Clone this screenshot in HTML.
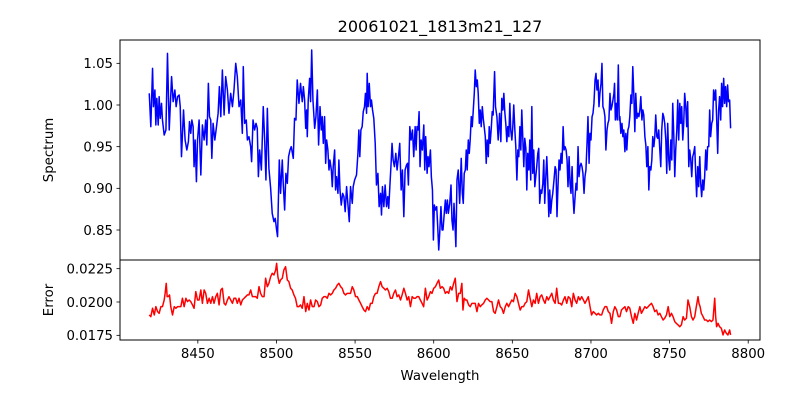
<!DOCTYPE html>
<html><head><meta charset="utf-8"><style>
html,body{margin:0;padding:0;background:#fff;}
svg{display:block;font-family:"DejaVu Sans","Liberation Sans",sans-serif;}
</style></head><body>
<svg id="fig" width="800" height="400" viewBox="0 0 800 400">
<rect x="0" y="0" width="800" height="400" fill="#fff"/>
<text x="440" y="32" font-size="16" text-anchor="middle">20061021_1813m21_127</text>
<text transform="translate(53,150) rotate(-90)" font-size="13.3" text-anchor="middle">Spectrum</text>
<text transform="translate(53,300) rotate(-90)" font-size="13.3" text-anchor="middle">Error</text>
<text x="440" y="380" font-size="13.3" text-anchor="middle">Wavelength</text>
<g id="g"></g>
</svg>
<script>
const fluxWave=[8419.1,8420.1,8421.2,8421.8,8422.7,8423.3,8423.9,8424.8,8425.4,8426.1,8426.9,8427.5,8428.6,8429.7,8430.7,8431.8,8433.3,8434.3,8435.4,8436.2,8437.1,8438.1,8438.8,8439.6,8440.9,8441.9,8443.0,8444.0,8444.7,8445.5,8446.2,8447.0,8447.6,8448.3,8449.1,8449.8,8450.8,8451.9,8452.9,8454.0,8455.0,8455.7,8456.7,8457.4,8458.2,8458.9,8459.7,8460.8,8461.6,8462.9,8463.7,8464.6,8465.6,8466.7,8467.7,8468.8,8469.8,8470.9,8472.0,8473.0,8474.1,8475.1,8476.2,8477.3,8478.3,8478.9,8479.8,8480.8,8481.5,8482.5,8483.6,8484.2,8485.1,8486.1,8487.0,8487.8,8488.5,8489.3,8490.4,8491.6,8492.5,8493.3,8494.2,8495.2,8496.3,8497.3,8498.4,8499.2,8500.1,8500.7,8501.8,8502.6,8503.7,8504.3,8505.2,8506.0,8506.9,8507.7,8508.6,8509.4,8510.7,8511.5,8512.4,8513.2,8514.3,8515.3,
8516.4,8517.1,8517.9,8518.6,8519.2,8519.6,8520.2,8521.1,8521.7,8522.4,8523.2,8524.3,8525.1,8526.0,8526.8,8527.7,8528.5,8529.1,8529.8,8530.6,8531.3,8531.9,8532.7,8533.4,8534.0,8534.9,8535.5,8536.1,8537.0,8537.6,8538.2,8539.1,8539.7,8540.4,8541.2,8542.1,8542.9,8543.7,8544.6,8545.4,8546.3,8547.1,8548.2,8548.8,8549.7,8550.9,8551.8,8552.4,8553.0,8553.7,8554.5,8555.2,8556.0,8556.6,8557.3,8557.7,8558.3,8559.0,8559.8,8560.4,8561.1,8561.9,8562.8,8563.6,8564.5,8565.3,8566.2,8566.8,8567.4,8568.3,8569.1,8570.0,8570.8,8571.4,8572.1,8572.9,8573.5,8574.2,8575.0,8575.9,8576.7,8577.6,8578.4,8579.3,8580.1,8581.0,8581.8,8582.7,8583.3,8583.9,8584.8,8585.6,8586.5,8587.3,8588.2,8588.8,8589.4,8590.1,8590.7,8591.3,8592.0,8592.8,8593.7,8594.3,8594.9,8595.8,8596.4,8597.0,8597.9,8598.5,8599.2,8599.8,8600.4,8601.1,8601.9,8602.5,8603.2,8603.8,8604.6,8605.3,8605.9,8606.8,8607.4,8608.0,8608.7,8609.3,8610.2,8611.0,8611.6,8612.3,8612.9,8613.5,8614.1,8614.8,8615.6,8616.5,
8616.9,8617.5,8618.2,8618.8,8619.4,8620.1,8620.7,8621.3,8622.0,8622.6,8623.2,8623.9,8624.5,8625.1,8625.8,8626.4,8627.1,8627.7,8628.3,8629.0,8629.6,8630.2,8630.9,8631.5,8632.1,8632.8,8633.4,8634.0,8634.7,8635.3,8635.9,8636.6,8637.2,8637.8,8638.7,8639.3,8640.2,8641.0,8641.9,8642.7,8643.3,8644.0,8644.6,8645.2,8645.9,8646.5,8647.1,8647.8,8648.4,8649.0,8649.7,8650.3,8650.9,8651.6,8652.2,8652.9,8653.5,8654.1,8654.8,8655.4,8656.0,8656.7,8657.3,8657.9,8658.6,8659.2,8659.8,8660.5,8661.1,8661.7,8662.4,8663.0,8663.6,8664.3,8664.9,8665.5,8666.2,8666.8,8667.4,8668.1,8668.7,8669.4,8670.0,8670.6,8671.3,8671.9,8672.5,8673.2,8673.8,8674.4,8675.1,8675.7,8676.5,8677.2,8677.8,8678.4,8679.1,8679.7,8680.3,8681.0,8681.6,8682.3,8682.9,8683.5,8684.2,8684.8,8685.4,8686.1,8686.7,8687.3,8688.0,8688.6,8689.2,8689.9,8690.5,8691.1,8691.8,8692.4,8693.0,8693.7,8694.3,8694.9,8695.6,8696.2,8696.8,8697.5,8698.1,8698.8,8699.4,8700.0,8700.7,8701.3,8701.9,8702.6,8703.2,8703.8,8704.5,8705.1,8705.7,8706.4,8707.0,8707.6,8708.3,8708.9,8709.5,8710.2,8710.8,8711.4,8712.1,8712.7,8713.3,8714.0,8714.6,8715.0,8715.5,8716.1,8716.7,8717.4,8718.0,
8718.4,8719.0,8719.7,8720.3,8720.9,8721.6,8722.2,8722.8,8723.5,8724.1,8724.7,8725.4,8726.0,8726.6,8727.3,8727.9,8728.5,8729.2,8729.8,8730.5,8731.1,8731.7,8732.4,8733.0,8733.6,8734.3,8734.9,8735.5,8736.2,8736.8,8737.4,8738.1,8738.7,8739.3,8740.0,8740.6,8741.2,8741.9,8742.5,8743.1,8743.8,8744.4,8745.0,8745.7,8746.3,8746.9,8747.6,8748.2,8748.8,8749.5,8750.1,8750.8,8751.4,8752.0,8752.7,8753.3,8753.9,8754.6,8755.2,8755.8,8756.5,8757.1,8757.7,8758.4,8759.0,8759.6,8760.3,8760.9,8761.5,8762.2,8762.8,8763.4,8764.1,8764.7,8765.3,8766.0,8766.6,8767.2,8767.9,8768.5,8769.2,8769.8,8770.4,8771.1,8771.7,8772.3,8773.0,8773.6,8774.2,8774.9,8775.5,8776.1,8776.8,8777.4,8778.0,8778.7,8779.3,8779.9,8780.6,8781.2,8781.8,8782.5,8783.1,8783.7,8784.4,8785.0,8785.6,8786.3,8786.9,8787.5,8788.2,8788.8];
const flux=[1.014,0.974,1.044,0.998,1.018,0.976,1.008,0.976,1.010,0.984,1.002,0.982,0.964,0.970,1.062,0.970,1.034,1.004,1.018,0.998,1.010,1.012,0.998,0.938,0.994,0.958,0.946,0.956,0.980,0.966,0.982,0.974,0.926,0.958,0.908,0.958,0.982,0.916,0.976,0.958,0.982,0.952,1.026,0.986,0.982,0.936,0.978,0.958,0.970,0.990,1.022,0.986,1.042,0.988,1.034,1.018,0.990,1.014,0.998,1.018,1.050,1.034,0.998,1.006,0.966,1.046,0.978,0.982,0.958,0.962,0.950,0.932,0.982,0.970,0.978,0.972,0.914,0.946,0.922,0.998,0.958,0.910,0.996,0.924,0.900,0.870,0.860,0.864,0.850,0.842,0.934,0.894,0.934,0.906,0.874,0.918,0.906,0.938,0.946,0.950,0.936,0.984,0.982,1.030,1.002,1.026,
1.004,1.022,1.006,0.972,0.994,0.962,1.006,1.032,1.004,1.066,1.006,0.972,0.986,1.018,0.952,0.998,0.970,0.986,0.954,0.986,0.930,0.958,0.946,0.922,0.934,0.922,0.902,0.926,0.946,0.898,0.914,0.894,0.934,0.898,0.880,0.894,0.890,0.872,0.902,0.882,0.860,0.902,0.882,0.902,0.910,0.916,0.942,0.970,0.938,0.970,0.974,0.992,0.998,1.014,0.990,1.038,0.998,1.026,0.998,1.006,0.994,0.984,0.954,0.904,0.918,0.878,0.894,0.868,0.902,0.878,0.904,0.878,0.890,0.876,0.902,0.930,0.954,0.934,0.926,0.942,0.922,0.938,0.954,0.898,0.922,0.866,0.922,0.928,0.930,0.904,0.974,0.958,0.970,0.938,0.974,0.946,0.974,0.970,0.992,0.926,0.958,0.946,0.976,0.922,0.962,0.918,0.938,0.926,0.946,0.914,0.898,0.838,0.880,0.874,0.878,0.856,0.826,0.846,0.878,0.850,0.850,0.872,0.886,0.870,0.886,0.870,0.882,0.904,0.862,0.850,0.882,0.858,0.830,0.910,0.922,0.882,
0.902,0.936,0.894,0.882,0.918,0.922,0.946,0.922,0.958,0.942,0.958,0.986,0.974,0.992,1.014,1.042,1.022,1.030,1.014,0.978,0.994,0.974,0.998,0.984,0.974,0.962,0.930,0.958,0.938,0.974,0.954,0.972,0.992,0.988,1.040,0.998,0.986,0.958,0.990,0.956,1.008,0.994,1.014,0.992,0.976,0.956,0.974,0.962,1.002,0.970,0.958,0.974,1.000,0.970,0.950,0.910,0.946,0.938,0.974,0.946,0.994,0.958,0.926,0.960,0.948,0.898,0.942,0.922,0.958,0.910,0.998,0.918,0.946,0.902,0.914,0.926,0.942,0.948,0.882,0.898,0.894,0.906,0.934,0.882,0.914,0.938,0.910,0.866,0.898,0.870,0.886,0.894,0.910,0.926,0.922,0.866,0.906,0.934,0.922,0.942,0.930,0.974,0.946,0.950,0.946,0.934,0.902,0.938,0.906,0.894,0.926,0.890,0.870,0.890,0.906,0.898,0.950,0.914,0.926,0.930,0.926,0.918,0.894,0.914,0.922,0.954,0.986,0.930,0.966,0.958,0.986,0.990,1.002,1.030,1.038,1.018,1.030,0.998,1.014,1.026,1.050,0.998,0.994,0.986,0.946,0.970,0.978,0.982,1.014,0.994,0.998,1.006,1.014,1.026,0.982,1.002,0.982,1.048,0.982,
0.986,0.966,0.978,0.962,0.970,0.944,0.966,0.946,0.970,0.974,0.986,1.012,1.002,1.046,1.010,0.968,1.014,0.984,0.990,0.986,0.994,1.010,0.982,0.994,0.988,0.962,0.952,0.926,0.950,0.898,0.926,0.922,0.934,0.962,0.950,0.962,0.988,0.962,0.960,0.970,0.946,0.926,0.970,0.990,0.986,0.978,0.958,0.918,0.978,0.934,0.922,0.958,0.934,1.002,0.962,0.914,0.946,0.970,1.006,0.958,1.002,0.978,0.998,0.958,0.978,1.014,0.998,0.974,1.004,0.926,0.946,0.936,0.914,0.938,0.942,0.950,0.918,0.890,0.926,0.902,0.938,0.906,0.890,0.910,0.898,0.914,0.946,0.922,0.950,0.950,0.994,0.962,0.978,0.982,1.018,1.006,1.018,0.986,0.942,0.994,1.010,0.982,1.026,0.998,1.032,1.002,1.022,0.998,1.024,1.004,1.006,0.972];
const errWave=[8419.1,8420.1,8421.2,8422.3,8423.3,8424.4,8425.4,8426.5,8427.5,8428.6,8429.2,8429.9,8430.5,8431.1,8432.0,8432.8,8433.9,8435.0,8436.0,8437.1,8438.1,8439.2,8440.2,8441.3,8442.4,8443.4,8444.5,8445.5,8446.6,8447.6,8448.7,8449.8,8450.8,8451.9,8452.9,8454.0,8455.0,8456.1,8457.2,8458.2,8459.3,8460.3,8461.4,8462.4,8463.5,8464.6,8465.6,8466.7,8467.7,8468.8,8469.8,8470.9,8472.0,8473.0,8474.1,8475.1,8476.2,8477.3,8478.3,8479.4,8480.4,8481.5,8482.5,8483.6,8484.7,8485.7,8486.8,8487.8,8488.9,8489.9,8491.0,8492.1,8493.1,8494.2,8495.2,8496.3,8497.3,8498.4,8499.5,8500.1,8500.9,8501.8,8502.6,8503.7,8504.7,8505.8,8506.9,8507.9,8509.0,8510.0,8511.1,8512.1,8513.2,8514.3,8515.3,
8516.4,8517.5,8518.6,8519.6,8520.7,8521.7,8522.8,8523.9,8524.9,8526.0,8527.0,8528.1,8529.1,8530.2,8531.3,8532.3,8533.4,8534.4,8535.5,8536.5,8537.6,8538.7,8539.7,8540.8,8541.8,8542.9,8543.9,8545.0,8546.1,8547.1,8548.2,8549.2,8550.3,8551.4,8552.4,8553.5,8554.5,8555.6,8556.6,8557.7,8558.8,8559.8,8560.9,8561.9,8563.0,8564.0,8565.1,8566.2,8567.2,8568.3,8569.3,8570.4,8571.4,8572.5,8573.6,8574.6,8575.7,8576.7,8577.8,8578.9,8579.9,8581.0,8582.0,8583.1,8584.1,8585.2,8586.3,8587.3,8588.4,8589.4,8590.5,8591.5,8592.6,8593.6,8594.7,8595.8,8596.8,8597.9,8598.9,8600.0,8601.1,8602.1,8603.2,8604.2,8605.3,8606.3,8607.4,8608.5,8609.5,8610.6,8611.6,8612.7,8613.7,8614.8,8615.9,8616.9,
8617.9,8618.6,8619.4,8620.3,8621.1,8622.2,8623.2,8624.3,8625.4,8626.4,8627.5,8628.5,8629.6,8630.6,8631.7,8632.8,8633.8,8634.9,8635.9,8637.0,8638.1,8639.1,8640.2,8641.2,8642.3,8643.3,8644.4,8645.5,8646.5,8647.6,8648.6,8649.7,8650.7,8651.8,8652.9,8653.9,8655.0,8656.0,8657.1,8658.1,8659.2,8660.3,8661.3,8662.4,8663.4,8664.5,8665.5,8666.6,8667.7,8668.7,8669.8,8670.8,8671.9,8672.9,8674.0,8675.1,8676.1,8677.2,8678.2,8679.3,8680.4,8681.4,8682.5,8683.5,8684.6,8685.6,8686.7,8687.8,8688.8,8689.9,8690.9,8692.0,8693.0,8694.1,8695.2,8696.2,8697.3,8698.3,8699.4,8700.4,8701.5,8702.6,8703.6,8704.7,8705.7,8706.8,8707.8,8708.9,8710.0,8711.0,8712.1,8713.1,8714.2,8715.2,8716.3,8717.4,8718.4,
8719.4,8720.5,8721.6,8722.6,8723.7,8724.7,8725.8,8726.9,8727.9,8729.0,8730.0,8731.1,8732.1,8733.2,8734.3,8735.3,8736.4,8737.4,8738.5,8739.5,8740.6,8741.7,8742.7,8743.8,8744.8,8745.9,8746.9,8748.0,8749.1,8750.1,8751.2,8752.2,8753.3,8754.3,8755.4,8756.5,8757.5,8758.6,8759.6,8760.7,8761.7,8762.8,8763.9,8764.9,8766.0,8767.0,8768.1,8768.7,8769.4,8770.2,8771.3,8772.3,8773.4,8774.4,8775.5,8776.6,8777.6,8778.7,8779.3,8779.9,8780.8,8781.8,8782.9,8784.0,8785.0,8786.1,8787.1,8788.2,8788.8];
const err=[.01903,.01890,.01953,.01903,.01965,.01928,.01915,.01965,.01965,.02015,.02065,.02140,.02040,.02040,.02053,.01965,.01903,.01965,.01953,.01965,.01965,.01965,.02028,.01965,.02028,.02003,.02015,.02003,.01978,.01953,.02078,.02015,.02015,.02090,.01990,.02090,.02065,.01990,.02028,.01990,.02040,.01990,.02040,.02065,.01978,.02090,.02103,.01990,.01978,.02015,.02040,.02015,.01990,.02028,.02028,.01990,.02028,.01978,.02015,.02028,.02040,.02053,.02053,.02090,.02040,.02040,.02040,.02028,.02115,.02065,.02040,.02040,.02178,.02115,.02140,.02190,.02215,.02203,.02240,.02290,.02190,.02140,.02165,.02178,.02240,.02265,.02165,.02153,.02103,.02090,.02053,.02028,.01965,.01965,.01978,
.01953,.02040,.01928,.01990,.01940,.02015,.01965,.01965,.02015,.02003,.01965,.01978,.02028,.02040,.02040,.02028,.02065,.02053,.02065,.02090,.02103,.02128,.02140,.02115,.02103,.02065,.02053,.02065,.02065,.02065,.02115,.02090,.02040,.02040,.02015,.01990,.01965,.01940,.01928,.01965,.01940,.01990,.01990,.02040,.02065,.02065,.02115,.02153,.02115,.02103,.02090,.02103,.02078,.02028,.02028,.02065,.02090,.02040,.02053,.02015,.02053,.02103,.02065,.02015,.02040,.01965,.02040,.02028,.02028,.02040,.02040,.02015,.01990,.01965,.02103,.02015,.02040,.02078,.02065,.02103,.02115,.02140,.02165,.02103,.02115,.02103,.02065,.02078,.02065,.02115,.02090,.02140,.02178,.02003,.02065,.02065,
.02140,.01940,.02028,.02015,.02015,.01978,.01965,.01990,.01990,.01990,.01928,.01990,.01965,.01978,.01990,.02015,.02028,.02015,.02003,.02003,.01928,.01915,.01965,.02015,.01965,.01953,.01915,.01965,.01990,.01965,.01990,.02015,.02003,.02065,.02040,.01990,.01940,.01965,.01965,.01990,.02003,.02090,.02028,.01965,.02015,.01990,.02065,.01990,.02040,.02053,.02015,.01990,.02040,.02015,.02040,.02065,.02015,.01990,.02103,.01990,.01990,.01978,.02015,.02040,.01990,.02040,.02028,.01965,.02065,.02015,.01990,.02040,.02015,.02040,.02015,.01990,.02015,.02040,.01965,.01903,.01928,.01915,.01903,.01915,.01903,.01903,.01940,.01965,.01965,.01928,.01915,.01840,.01928,.01965,.01940,.01890,.01890,
.01940,.01953,.01965,.01928,.01965,.01953,.01890,.01840,.01915,.01865,.01915,.01965,.01915,.01940,.01965,.01953,.01965,.01978,.01990,.01965,.01928,.01940,.01903,.01915,.01890,.01865,.01878,.01903,.01965,.01890,.01915,.01890,.01853,.01840,.01828,.01815,.01828,.01890,.01865,.01878,.02015,.01965,.01890,.01865,.01890,.01965,.02040,.01990,.01965,.01915,.01890,.01865,.01865,.01853,.01865,.01853,.01865,.02028,.01890,.01815,.01840,.01815,.01803,.01753,.01790,.01765,.01753,.01790,.01753];
const xTicks=[8450,8500,8550,8600,8650,8700,8750,8800];
const fluxTicks=[0.85,0.90,0.95,1.00,1.05];
const fluxTickLabels=["0.85","0.90","0.95","1.00","1.05"];
const errTicks=[0.0175,0.0200,0.0225];
const errTickLabels=["0.0175","0.0200","0.0225"];

const L=120,R=760,T1=40,B1=260,T2=260,B2=340;
const XMIN=8400.5,XMAX=8807.5;
const YMIN1=0.814,YMAX1=1.078,YMIN2=0.01715,YMAX2=0.02315;
const xs=w=>L+(w-XMIN)/(XMAX-XMIN)*(R-L);
const y1=v=>B1-(v-YMIN1)/(YMAX1-YMIN1)*(B1-T1);
const y2=v=>B2-(v-YMIN2)/(YMAX2-YMIN2)*(B2-T2);
const NS="http://www.w3.org/2000/svg";
const g=document.getElementById('g');
function mk(tag,attrs){const e=document.createElementNS(NS,tag);for(const k in attrs)e.setAttribute(k,attrs[k]);g.appendChild(e);return e;}

const p1=mk('polyline',{points:fluxWave.map((w,i)=>xs(w).toFixed(2)+','+y1(flux[i]).toFixed(2)).join(' '),fill:'none',stroke:'#0000ff','stroke-width':1.5,'stroke-linejoin':'round'});


const p2=mk('polyline',{points:errWave.map((w,i)=>xs(w).toFixed(2)+','+y2(err[i]).toFixed(2)).join(' '),fill:'none',stroke:'#ff0000','stroke-width':1.5,'stroke-linejoin':'round'});



const f1=mk('rect',{x:L,y:T1,width:R-L,height:B1-T1,fill:'none',stroke:'#000','stroke-width':1});


const f2=mk('rect',{x:L,y:T2,width:R-L,height:B2-T2,fill:'none',stroke:'#000','stroke-width':1});



xTicks.forEach(t=>{
  const x=xs(t);
  const tk=mk('line',{x1:x,x2:x,y1:B2,y2:B2+3.5,stroke:'#000','stroke-width':0.8});
  
  
  const lb=mk('text',{x:x,y:B2+18,'font-size':13.3,'text-anchor':'middle'});
  lb.textContent=String(t);
  
  
});
fluxTicks.forEach((t,i)=>{
  const y=y1(t);
  const tk=mk('line',{x1:L-3.5,x2:L,y1:y,y2:y,stroke:'#000','stroke-width':0.8});
  
  
  const lb=mk('text',{x:L-7,y:y+4.8,'font-size':13.3,'text-anchor':'end'});
  lb.textContent=fluxTickLabels[i];
  
  
});
errTicks.forEach((t,i)=>{
  const y=y2(t);
  const tk=mk('line',{x1:L-3.5,x2:L,y1:y,y2:y,stroke:'#000','stroke-width':0.8});
  
  
  const lb=mk('text',{x:L-7,y:y+4.8,'font-size':13.3,'text-anchor':'end'});
  lb.textContent=errTickLabels[i];
  
  
});
</script>
</body></html>
